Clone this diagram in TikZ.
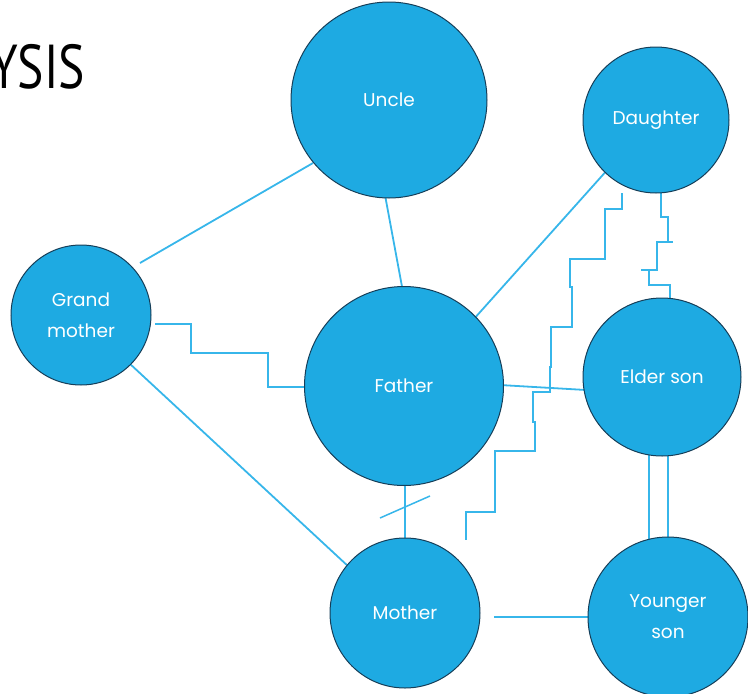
\documentclass[tikz,border=0pt]{standalone}
\usepackage{fontspec}
\setmainfont{Poppins}
\newfontfamily\titlefont{PT Sans}
\usetikzlibrary{backgrounds}
\definecolor{circfill}{RGB}{30,170,226}
\definecolor{circedge}{RGB}{22,62,88}
\definecolor{linkc}{RGB}{55,182,234}
\begin{document}
\begin{tikzpicture}[x=1pt,y=-1pt,
  person/.style={circle, fill=circfill, draw=circedge, line width=1pt, inner sep=0pt,
    text=white, font=\fontsize{18.5}{31}\selectfont, align=center},
  link/.style={draw=linkc, line width=1.8pt, line join=miter}]
\useasboundingbox (0,0) rectangle (748,694);

\node[anchor=base east, inner sep=0pt, text=black] (title) at (85,88)
  {\scalebox{0.8}[1]{\titlefont\fontsize{62}{62}\selectfont YSIS}};

\node[person, minimum size=196pt] (uncle)    at (389,100) {Uncle};
\node[person, minimum size=146pt] (daughter) at (656,120) {Daughter};
\node[person, minimum size=140pt] (grand)    at (81,315)  {Grand\\mother};
\node[person, minimum size=199pt] (father)   at (404,386) {Father};
\node[person, minimum size=158pt] (elder)    at (662,377) {Elder son};
\node[person, minimum size=150pt] (mother)   at (405,613) {Mother};
\node[person, minimum size=160pt] (younger)  at (668,617) {Younger\\son};

% endpoints
\coordinate (gU) at (140,263);  \coordinate (uG) at (313,163);
\coordinate (uF) at (385,195);  \coordinate (fU) at (403,292);
\coordinate (dF) at (609,168);  \coordinate (fD) at (473,320);
\coordinate (gM) at (129,363);  \coordinate (mG) at (349,567);
\coordinate (fE) at (500,385);  \coordinate (eF) at (586,390);
\coordinate (fM) at (405,480);  \coordinate (mF) at (405,545);
\coordinate (s1) at (380,518);  \coordinate (s2) at (430,496);
\coordinate (mY) at (494,617);  \coordinate (yM) at (592,617);
\coordinate (eY1) at (649,450); \coordinate (yE1) at (649,545);
\coordinate (eY2) at (668,450); \coordinate (yE2) at (668,545);
\coordinate (gF) at (155,324);  \coordinate (fG) at (310,387);
\coordinate (dA) at (622,193);  \coordinate (aEnd) at (466,540);
\coordinate (dB) at (661,190);  \coordinate (eB) at (670,303);

\begin{scope}[on background layer]
\draw[link] (gU) -- (uG);
\draw[link] (uF) -- (fU);
\draw[link] (dF) -- (fD);
\draw[link] (gM) -- (mG);
\draw[link] (fE) -- (eF);
\draw[link] (fM) -- (mF);
\draw[link, line width=1.5pt] (s1) -- (s2);
\draw[link] (mY) -- (yM);
\draw[link] (eY1) -- (yE1);
\draw[link] (eY2) -- (yE2);
\draw[link] (gF) -- (191,324) -- (191,353) -- (268,353) -- (268,387) -- (fG);
\draw[link] (dA) -- (622,209) -- (605,209) -- (605,259) -- (570,259) -- (570,287)
  -- (572,287) -- (572,327) -- (551,327) -- (551,367) -- (550,367) -- (550,392)
  -- (533,392) -- (533,422) -- (535,422) -- (535,451) -- (495,451) -- (495,512)
  -- (466,512) -- (aEnd);
\draw[link] (dB) -- (661,217) -- (668,217) -- (668,242) -- (673,242)
  (668,242) -- (657,242) -- (657,270) -- (641,270)
  (649,270) -- (649,285) -- (670,285) -- (eB);
\end{scope}
\end{tikzpicture}
\end{document}
